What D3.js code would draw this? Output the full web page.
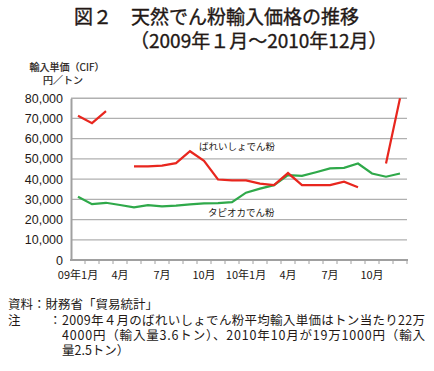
<!DOCTYPE html>
<html>
<head>
<meta charset="utf-8">
<script src="https://cdn.jsdelivr.net/npm/d3@7"></script>
<style>
  body { margin: 0; background: #fff; }
  text { font-family: "Noto Sans CJK JP", "Liberation Sans", sans-serif; fill: #231815; }
</style>
</head>
<body>
<div id="chart"></div>
<script>
// Data (yen per ton, CIF), null = not plotted (see note)
const months = [
    "2009-01", "2009-02", "2009-03", "2009-04", "2009-05", "2009-06",
    "2009-07", "2009-08", "2009-09", "2009-10", "2009-11", "2009-12",
    "2010-01", "2010-02", "2010-03", "2010-04", "2010-05", "2010-06",
    "2010-07", "2010-08", "2010-09", "2010-10", "2010-11", "2010-12"
];
const potato = [
    71300, 67700, 73600, null, 46300, 46300,
    46700, 47900, 53800, 49000, 39800, 39400,
    39400, 37800, 37000, 43000, 37000, 37000,
    37000, 38700, 36000, null, 47700, 80000
];
const tapioca = [
    31300, 27600, 28300, 27200, 26000, 27100,
    26500, 26900, 27500, 28000, 28100, 28600,
    33300, 35300, 37000, 42000, 41600, 43400,
    45300, 45600, 47700, 42800, 41200, 42800
];
const yTicks = [0, 10000, 20000, 30000, 40000, 50000, 60000, 70000, 80000];
const xTickLabels = { 0: "09年1月", 3: "4月", 6: "7月", 9: "10月", 12: "10年1月", 15: "4月", 18: "7月", 21: "10月" };

const width = 434;
const height = 371;
const margin = { top: 98.25, right: 27, bottom: 111, left: 71 };

const svg = d3.select("#chart")
    .append("svg")
    .attr("width", width)
    .attr("height", height);

// Title
svg.append("text").attr("x", 74).attr("y", 24)
    .style("font-size", "19px").style("stroke", "#231815").style("stroke-width", 0.35)
    .text("図２　天然でん粉輸入価格の推移");
svg.append("text").attr("x", 130).attr("y", 48)
    .style("font-size", "19px").style("stroke", "#231815").style("stroke-width", 0.35)
    .text("（2009年１月～2010年12月）");

// Scales
const x = d3.scaleBand()
    .domain(months)
    .range([margin.left, width - margin.right]);

const y = d3.scaleLinear()
    .domain([0, 80000])
    .range([height - margin.bottom, margin.top]);

// Gridlines
svg.append("g")
    .selectAll("line")
    .data(yTicks.filter(d => d > 0))
    .enter().append("line")
    .attr("x1", margin.left)
    .attr("x2", width - margin.right)
    .attr("y1", d => y(d))
    .attr("y2", d => y(d))
    .attr("stroke", "#b0b0b0")
    .attr("stroke-width", 1.3);

// Y axis
const yAxis = svg.append("g")
    .attr("transform", `translate(${margin.left},0)`)
    .call(d3.axisLeft(y).tickValues(yTicks).tickSize(0).tickPadding(8).tickFormat(d3.format(",")));
yAxis.select(".domain").attr("stroke", "#a0a0a0").attr("stroke-width", 2);
yAxis.selectAll("text")
    .style("font-family", "'Liberation Sans', sans-serif")
    .style("font-size", "12.5px")
    .attr("fill", "#231815");

// X axis: ticks at month boundaries
const xAxisG = svg.append("g")
    .attr("transform", `translate(0,${height - margin.bottom})`);
xAxisG.append("line")
    .attr("x1", margin.left - 1).attr("x2", width - margin.right + 1)
    .attr("stroke", "#a0a0a0").attr("stroke-width", 2);
xAxisG.selectAll(".tick")
    .data(months)
    .enter().append("line")
    .attr("x1", d => x(d) + x.bandwidth())
    .attr("x2", d => x(d) + x.bandwidth())
    .attr("y1", 0).attr("y2", 4)
    .attr("stroke", "#a0a0a0").attr("stroke-width", 1);
xAxisG.selectAll(".lbl")
    .data(Object.keys(xTickLabels))
    .enter().append("text")
    .attr("x", i => x(months[i]) + x.bandwidth() / 2)
    .attr("y", 19)
    .attr("text-anchor", "middle")
    .style("font-size", "11px")
    .text(i => xTickLabels[i]);

// Y axis title
svg.append("text").attr("x", 67).attr("y", 71).attr("text-anchor", "middle")
    .style("font-size", "10px").style("stroke", "#231815").style("stroke-width", 0.2)
    .text("輸入単価（CIF）");
svg.append("text").attr("x", 63).attr("y", 84).attr("text-anchor", "middle")
    .style("font-size", "10px").style("stroke", "#231815").style("stroke-width", 0.2)
    .text("円／トン");

// Lines
const line = d3.line()
    .defined(d => d.v !== null)
    .x(d => x(d.m) + x.bandwidth() / 2)
    .y(d => y(d.v));

svg.append("path")
    .datum(months.map((m, i) => ({ m: m, v: tapioca[i] })))
    .attr("fill", "none")
    .attr("stroke", "#2fa94a")
    .attr("stroke-width", 2.2)
    .attr("d", line);

svg.append("path")
    .datum(months.map((m, i) => ({ m: m, v: potato[i] })))
    .attr("fill", "none")
    .attr("stroke", "#e8261e")
    .attr("stroke-width", 2.2)
    .attr("d", line);

// Series labels
svg.append("text").attr("x", 199).attr("y", 150)
    .style("font-size", "9.5px").text("ばれいしょでん粉");
svg.append("text").attr("x", 208).attr("y", 216)
    .style("font-size", "9.5px").text("タピオカでん粉");

// Notes (one text block)
const notes = svg.append("text").style("font-size", "12.5px");
notes.append("tspan").attr("x", 8).attr("y", 309).text("資料：財務省「貿易統計」");
notes.append("tspan").attr("x", 8).attr("y", 325).text("注");
notes.append("tspan").attr("x", 49).attr("y", 325).text("：");
notes.append("tspan").attr("x", 62).attr("y", 325)
    .attr("textLength", 363).attr("lengthAdjust", "spacing")
    .text("2009年４月のばれいしょでん粉平均輸入単価はトン当たり22万");
notes.append("tspan").attr("x", 62).attr("y", 340)
    .attr("textLength", 363).attr("lengthAdjust", "spacing")
    .text("4000円（輸入量3.6トン）、2010年10月が19万1000円（輸入");
notes.append("tspan").attr("x", 62).attr("y", 355).text("量2.5トン）");
</script>
</body>
</html>
